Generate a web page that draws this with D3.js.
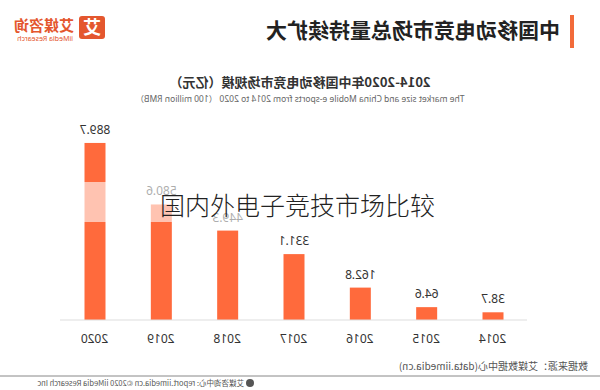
<!DOCTYPE html>
<html><head><meta charset="utf-8">
<script src="https://cdn.jsdelivr.net/npm/d3@7"></script>
<style>body{margin:0;background:#fff}svg{display:block}</style>
</head><body>
<script>
const years = ["2014","2015","2016","2017","2018","2019","2020"];
const values = [38.7, 64.6, 162.8, 331.1, 449.3, 580.6, 889.7];
const title = "中国移动电竞市场总量持续扩大";
const subtitle = "2014-2020年中国移动电竞市场规模（亿元）";
const subtitleEn = "The market size and China Mobile e-sports from 2014 to 2020 （100 million RMB）";
const source = "数据来源：艾媒数据中心(data.iimedia.cn)";
const footer = "艾媒咨询中心: report.iimedia.cn  ©2020  iiMedia Research Inc";
const overlay = "国内外电子竞技市场比较";

const W = 600, H = 390;
const cjk = "'Noto Sans CJK SC','Noto Sans',sans-serif";
const svg = d3.select("body").append("svg").attr("width", W).attr("height", H);
svg.append("rect").attr("width", W).attr("height", H).attr("fill", "#fff");

// the whole chart is mirrored horizontally
const g = svg.append("g").attr("transform", `translate(${W},0) scale(-1,1)`);

// header
g.append("rect").attr("x", 26).attr("y", 15).attr("width", 4).attr("height", 33).attr("fill", "#F26B3A");
g.append("text").attr("x", 40).attr("y", 38).attr("font-family", cjk).attr("font-weight", "bold")
  .attr("font-size", 21).attr("fill", "#222").text(title);

// logo
g.append("rect").attr("x", 495).attr("y", 16).attr("width", 26).attr("height", 23).attr("rx", 3).attr("fill", "#E4572E");
g.append("text").attr("x", 508).attr("y", 34).attr("text-anchor", "middle").attr("font-family", cjk)
  .attr("font-weight", "bold").attr("font-size", 18).attr("fill", "#fff").text("艾");
g.append("text").attr("x", 526).attr("y", 31).attr("font-family", cjk).attr("font-weight", "bold")
  .attr("font-size", 15).attr("fill", "#E4572E").text("艾媒咨询");
g.append("text").attr("x", 527).attr("y", 41).attr("font-family", "'Noto Sans',sans-serif")
  .attr("font-size", 7).attr("fill", "#E4572E").text("iiMedia Research");

// subtitles
g.append("text").attr("x", 300).attr("y", 87).attr("text-anchor", "middle").attr("font-family", cjk)
  .attr("font-weight", "bold").attr("font-size", 13).attr("fill", "#333").text(subtitle);
g.append("text").attr("x", 300).attr("y", 102).attr("text-anchor", "middle").attr("font-family", "'Noto Sans','Noto Sans CJK SC',sans-serif")
  .attr("font-size", 8.5).attr("fill", "#666").text(subtitleEn);

// scales
const x = d3.scalePoint().domain(years).range([107, 505]);
const y = d3.scaleLinear().domain([0, 1000]).range([320, 121]);
const bw = 21;

g.selectAll("rect.bar").data(values).join("rect").attr("class", "bar")
  .attr("x", (d, i) => x(years[i]) - bw / 2).attr("width", bw)
  .attr("y", d => y(d)).attr("height", d => y(0) - y(d)).attr("fill", "#FF6A3C");

g.selectAll("text.val").data(values).join("text").attr("class", "val")
  .attr("x", (d, i) => x(years[i])).attr("y", d => y(d) - 9).attr("text-anchor", "middle")
  .attr("font-family", "'Noto Sans',sans-serif").attr("font-size", 12).attr("fill", "#333").text(d => d.toFixed(1));

// baseline + axis
g.append("line").attr("x1", 73).attr("x2", 540).attr("y1", 320).attr("y2", 320).attr("stroke", "#ddd");
const ax = g.append("g").attr("transform", "translate(0,320)").call(d3.axisBottom(x).tickSize(0).tickPadding(14));
ax.select(".domain").remove();
ax.selectAll("text").attr("font-family", "'Noto Sans',sans-serif").attr("font-size", 12).attr("fill", "#333");

// source
g.append("text").attr("x", 12).attr("y", 370).attr("font-family", cjk).attr("font-size", 10).attr("fill", "#555").text(source);
g.append("line").attr("x1", 0).attr("x2", W).attr("y1", 376).attr("y2", 376).attr("stroke", "#888").attr("stroke-width", 1);
g.append("circle").attr("cx", 350).attr("cy", 383).attr("r", 4).attr("fill", "#555");
g.append("text").attr("x", 356).attr("y", 386).attr("font-family", cjk).attr("font-size", 7.5).attr("fill", "#555").text(footer);

// overlay band and text (not mirrored)
svg.append("rect").attr("x", 0).attr("y", 182).attr("width", W).attr("height", 40).attr("fill", "#fff").attr("fill-opacity", 0.6);
svg.append("text").attr("x", 160).attr("y", 215).attr("font-family", cjk).attr("font-weight", 300)
  .attr("font-size", 25).attr("fill", "#222").text(overlay);
</script>
</body></html>
